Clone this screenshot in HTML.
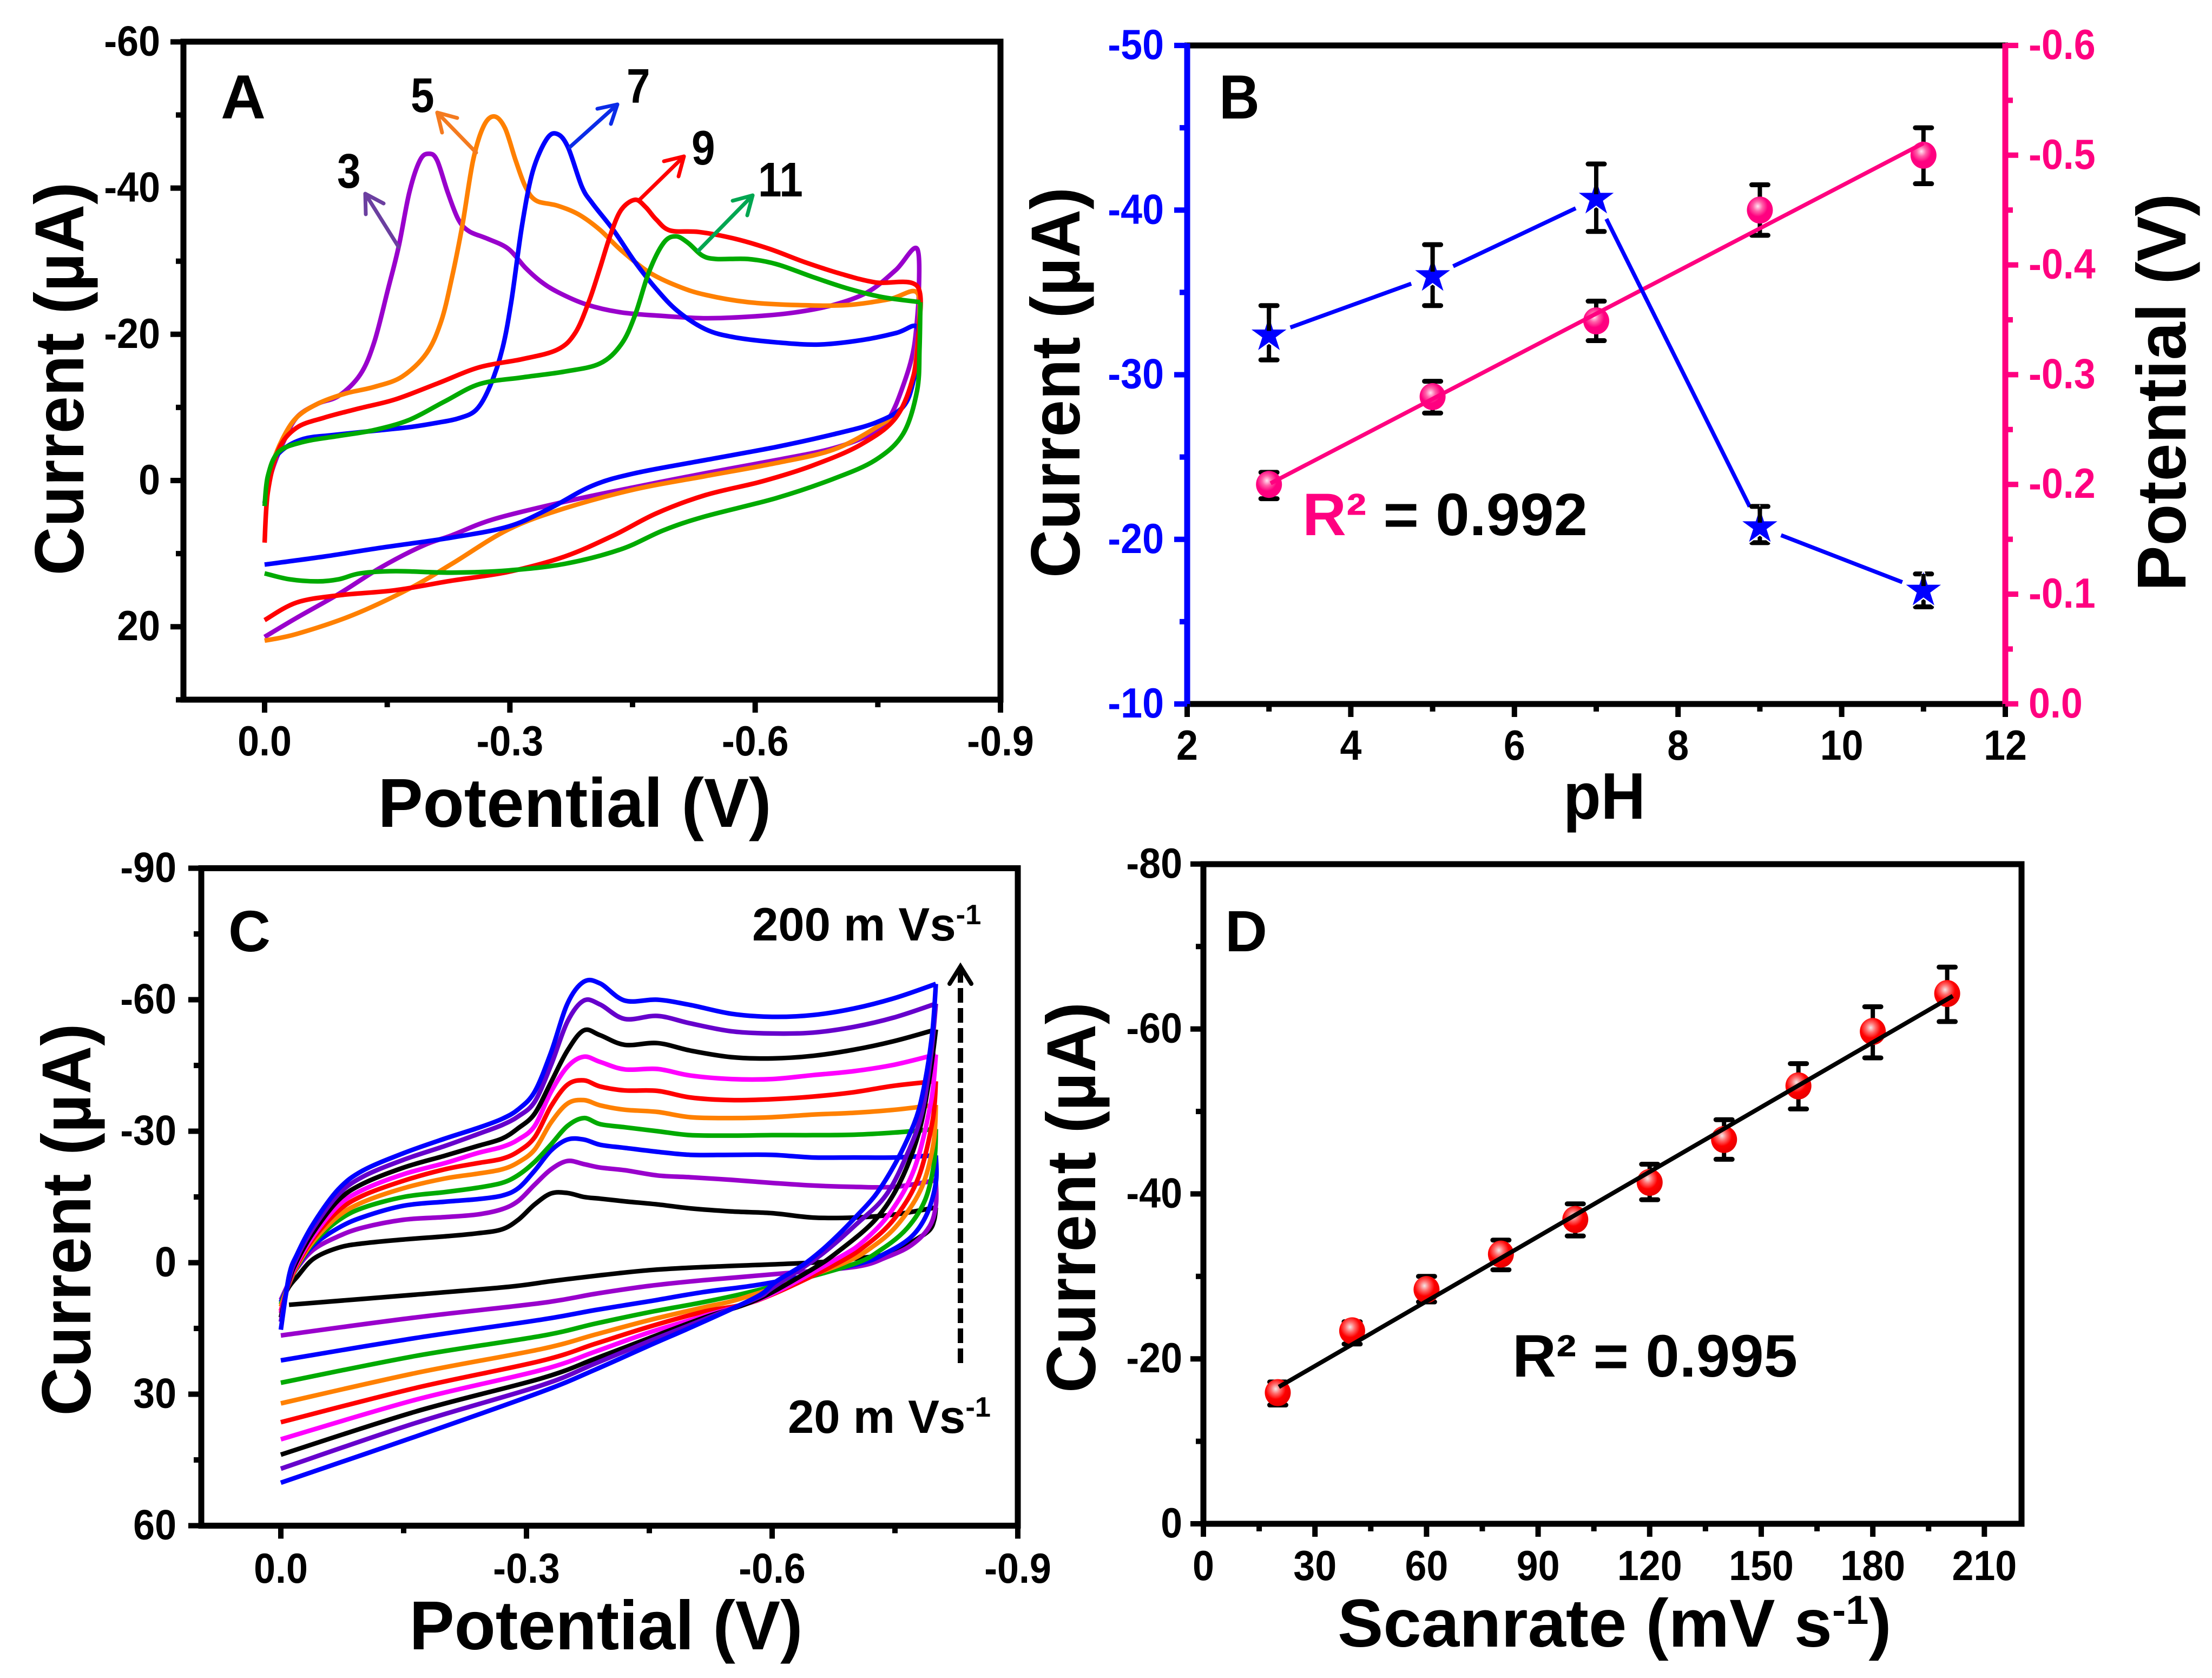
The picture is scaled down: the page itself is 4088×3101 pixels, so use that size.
<!DOCTYPE html>
<html lang="en">
<head>
<meta charset="utf-8">
<title>Cyclic voltammetry panels A-D</title>
<style>
html,body{margin:0;padding:0;background:#fff;}
svg{display:block;}
text{font-family:"Liberation Sans",sans-serif;font-weight:bold;}
</style>
</head>
<body>
<svg id="figure" xmlns="http://www.w3.org/2000/svg" width="4088" height="3101" viewBox="0 0 4088 3101">
<defs>
<radialGradient id="pinkBall" cx="0.42" cy="0.36" r="0.62"><stop offset="0" stop-color="#ffe6f2"/><stop offset="0.3" stop-color="#ff60a8"/><stop offset="0.62" stop-color="#ff0080"/><stop offset="1" stop-color="#ff0080"/></radialGradient>
<radialGradient id="redBall" cx="0.42" cy="0.36" r="0.62"><stop offset="0" stop-color="#f4e8e8"/><stop offset="0.3" stop-color="#ff6a6a"/><stop offset="0.62" stop-color="#ff0000"/><stop offset="1" stop-color="#e80000"/></radialGradient>
</defs>
<rect width="4088" height="3101" fill="#ffffff"/>

<g id="panelA"></g>
<g id="panelB"></g>
<g id="panelC"></g>
<g id="panelD"></g>

<!-- Panel A text -->
<text x="408" y="219" font-size="115">A</text>
<text transform="translate(154,700) rotate(-90)" text-anchor="middle" font-size="128" textLength="727" lengthAdjust="spacingAndGlyphs">Current (µA)</text>
<text x="1062" y="1528" text-anchor="middle" font-size="128" textLength="727" lengthAdjust="spacingAndGlyphs">Potential (V)</text>
<text transform="translate(623,347) scale(.87,1)" font-size="90">3</text>
<text transform="translate(759,207) scale(.87,1)" font-size="90">5</text>
<text transform="translate(1158,190) scale(.87,1)" font-size="90">7</text>
<text transform="translate(1278,304) scale(.87,1)" font-size="90">9</text>
<text transform="translate(1401,363) scale(.87,1)" font-size="90">11</text>
<g fill="none" stroke-width="7" stroke-linecap="round" stroke-linejoin="round">
<g stroke="#6b3fa0"><line x1="737" y1="457" x2="675" y2="358"/><polyline points="676,396 675,358 709,376"/></g>
<g stroke="#f47b20"><line x1="880" y1="282" x2="808" y2="208"/><polyline points="817,245 808,208 845,218"/></g>
<g stroke="#0a2be8"><line x1="1053" y1="272" x2="1141" y2="193"/><polyline points="1104,201 1141,193 1129,229"/></g>
<g stroke="#ff0000"><line x1="1180" y1="371" x2="1264" y2="289"/><polyline points="1227,298 1264,289 1254,326"/></g>
<g stroke="#00a651"><line x1="1291" y1="463" x2="1391" y2="361"/><polyline points="1354,371 1391,361 1381,398"/></g>
</g>

<!-- Panel B text -->
<text transform="translate(2253,219) scale(.9,1)" font-size="115">B</text>
<text transform="translate(1995,707) rotate(-90)" text-anchor="middle" font-size="128" textLength="722" lengthAdjust="spacingAndGlyphs">Current (µA)</text>
<text transform="translate(4039,725) rotate(-90)" text-anchor="middle" font-size="128" textLength="735" lengthAdjust="spacingAndGlyphs">Potential (V)</text>
<text x="2965" y="1513" text-anchor="middle" font-size="122" textLength="152" lengthAdjust="spacingAndGlyphs">pH</text>
<text transform="translate(2407,989) scale(1.02,1)" font-size="110"><tspan fill="#ff0080">R²</tspan><tspan fill="#000"> = 0.992</tspan></text>

<!-- Panel C text -->
<text x="422" y="1758" font-size="108">C</text>
<text transform="translate(167,2254) rotate(-90)" text-anchor="middle" font-size="128" textLength="725" lengthAdjust="spacingAndGlyphs">Current (µA)</text>
<text x="1120" y="3048" text-anchor="middle" font-size="128" textLength="727" lengthAdjust="spacingAndGlyphs">Potential (V)</text>
<text transform="translate(1390,1738) scale(1.01,1)" font-size="86">200 m Vs<tspan dy="-30" font-size="52">-1</tspan></text>
<text transform="translate(1456,2648) scale(1.01,1)" font-size="86">20 m Vs<tspan dy="-30" font-size="52">-1</tspan></text>
<g fill="none" stroke="#000">
<line x1="1775" y1="2519" x2="1775" y2="1790" stroke-width="10" stroke-dasharray="27 10"/>
<polyline points="1755,1818 1775,1786 1795,1818" stroke-width="8" stroke-linecap="round"/>
</g>

<!-- Panel D text -->
<text x="2264" y="1758" font-size="108">D</text>
<text transform="translate(2024,2213) rotate(-90)" text-anchor="middle" font-size="128" textLength="722" lengthAdjust="spacingAndGlyphs">Current (µA)</text>
<text transform="translate(2472,3043) scale(1.012,1)" font-size="125">Scanrate (mV s<tspan dy="-42" font-size="75">-1</tspan><tspan dy="42">)</tspan></text>
<text transform="translate(2795,2544) scale(1.02,1)" font-size="110">R² = 0.995</text>
</svg>

<script>
// ---------- Panel A data (potential magnitude in V, current in uA) ----------
const ph3Potential = [0,.009,.022,.039,.065,.091,.117,.134,.151,.164,.177,.190,.201,.211,.224,.237,.250,.272,.298,.319,.337,.358,.393,.436,.488,.539,.591,.643,.695,.738,.772,.798,.800,.794,.781,.764,.742,.695,.626,.539,.453,.367,.280,.229,.194,.142,.091,.039,0];
const ph3Current = [3.1,-1.3,-5,-8.6,-10.5,-11.6,-14.5,-18.9,-26.2,-32,-39.4,-43.8,-44.7,-43.8,-39.4,-35.7,-34.1,-33.1,-31.7,-29.1,-27.3,-25.8,-24.1,-23,-22.5,-22.2,-22.4,-22.9,-24,-25.8,-28.8,-31.7,-24.7,-18.1,-13,-8.6,-6.4,-4.4,-2.8,-1,.9,2.9,5.3,7.5,8.9,11.9,15.5,18.8,21.4];
const ph5Potential = [0,.009,.022,.039,.065,.099,.134,.168,.198,.216,.229,.242,.255,.268,.281,.294,.307,.319,.332,.358,.384,.410,.436,.470,.505,.539,.591,.652,.712,.764,.798,.800,.794,.781,.747,.695,.626,.539,.453,.367,.298,.229,.177,.108,.039,0];
const ph5Current = [3.1,-2,-5.7,-8.6,-10.5,-11.9,-12.8,-14.2,-17.4,-21.8,-27.7,-35,-43.8,-48.5,-49.8,-48.2,-43.8,-40.2,-38.3,-37.6,-36.4,-34.3,-31.5,-28.5,-26.6,-25.4,-24.4,-24,-24,-24.8,-25.7,-20.4,-14.5,-10.1,-7.2,-4.2,-2.4,-.6,1.2,3.8,6.7,11.4,14.8,18.4,21,21.9];
const ph7Potential = [0,.009,.022,.048,.082,.125,.177,.211,.237,.259,.276,.291,.302,.315,.328,.345,.358,.371,.388,.401,.427,.453,.479,.505,.539,.574,.626,.678,.730,.773,.797,.800,.794,.781,.747,.695,.626,.539,.453,.401,.349,.298,.229,.142,.073,0];
const ph7Current = [3.1,-2,-4.2,-5.7,-6.2,-6.7,-7.3,-7.9,-8.5,-9.7,-13,-18.1,-24.7,-35,-42.3,-46.7,-47.4,-45.6,-40.2,-37.9,-34.2,-29.9,-26.2,-23.2,-20.7,-19.6,-18.9,-18.6,-19.2,-20.2,-21.1,-18.2,-13.8,-10.1,-7.9,-6.3,-4.6,-2.8,-1,.7,3.8,6.3,7.8,9.2,10.4,11.5];
const ph9Potential = [0,.004,.017,.039,.073,.117,.160,.212,.263,.315,.358,.380,.397,.410,.423,.436,.453,.466,.479,.496,.531,.574,.617,.660,.704,.747,.798,.800,.794,.772,.729,.669,.609,.539,.479,.427,.367,.298,.229,.160,.091,.039,0];
const ph9Current = [8.5,1.6,-4.2,-7.2,-8.6,-9.9,-11.1,-13.3,-15.5,-16.6,-17.9,-20.2,-24.6,-29,-33.6,-37,-38.4,-37.4,-35.7,-34.2,-34,-33.1,-31.7,-29.9,-28.3,-27.1,-26.6,-20.4,-14.5,-8.6,-4.9,-2,.1,2,4.5,7.5,10.4,12.5,13.7,15,15.7,16.7,19.1];
const ph11Potential = [0,.004,.017,.048,.091,.134,.177,.220,.263,.315,.367,.410,.436,.453,.470,.488,.503,.518,.535,.552,.591,.626,.669,.712,.755,.802,.801,.798,.781,.747,.695,.626,.539,.488,.436,.367,.298,.229,.160,.117,.091,.065,.030,0];
const ph11Current = [3.5,-.6,-3.9,-5.3,-6.1,-6.9,-8.3,-10.8,-13.2,-14.1,-14.9,-16,-18.6,-22.6,-28.5,-32.5,-33.4,-32.5,-30.8,-30.3,-30.3,-29.6,-27.9,-26.3,-25.1,-24.4,-18.1,-12.3,-6.4,-2.8,-.2,2.4,4.9,6.8,9.4,11.4,12.3,12.6,12.4,12.7,13.5,13.8,13.5,12.7];
const panelAXTicks = [0,-0.3,-0.6,-0.9];
const panelAXLabels = ['0.0','-0.3','-0.6','-0.9'];
const panelAXMinor = [-0.15,-0.45,-0.75];
const panelAYTicks = [-60,-40,-20,0,20];
const panelAYMinor = [-50,-30,-10,10,30];

// ---------- Panel B data ----------
const phValues = [3,5,7,9,11];
const bCurrent = [-32.4,-36,-40.7,-20.75,-16.9];
const bCurrentErrTop = [-34.2,-37.9,-42.8,-22,-17.9];
const bCurrentErrBottom = [-30.9,-34.2,-38.7,-19.8,-15.9];
const bPotential = [-.2,-.28,-.349,-.45,-.5];
const bPotentialErrTop = [-.211,-.294,-.367,-.473,-.525];
const bPotentialErrBottom = [-.187,-.265,-.331,-.427,-.474];
const bFitPh = [3.02,11];
const bFitPotential = [-.201,-.511];
const bXTicks = [2,4,6,8,10,12];
const bXMinor = [3,5,7,9,11];
const bLeftTicks = [-50,-40,-30,-20,-10];
const bLeftMinor = [-45,-35,-25,-15];
const bRightTicks = [-.6,-.5,-.4,-.3,-.2,-.1,0];
const bRightLabels = ['-0.6','-0.5','-0.4','-0.3','-0.2','-0.1','0.0'];
const bRightMinor = [-.55,-.45,-.35,-.25,-.15,-.05];

// ---------- Panel C data ----------
const cForwardPotential = [0,.01,.02,.04,.07,.1,.15,.2,.24,.27,.29,.31,.33,.35,.37,.39,.42,.46,.5,.55,.6,.65,.7,.75,.8];
const cForward20 = [9,5.5,3.2,-.9,-3.4,-4.4,-5.3,-6,-6.7,-7.6,-9.8,-13.3,-15.8,-15.9,-15,-14.6,-14,-13.3,-12.4,-11.7,-11.3,-10.3,-10.3,-11,-12.6];
const cForward40 = [8.5,4.5,1.2,-3,-6,-8,-9.8,-10.4,-11,-12.2,-14.1,-17.8,-21.3,-23.2,-22.5,-21.7,-21.1,-19.9,-19.5,-18.9,-18.2,-17.6,-17.3,-17.3,-18.8];
const cForward60 = [9,4.8,1,-4,-7.9,-10.4,-13,-13.9,-14.5,-15.3,-17,-21,-25.6,-28.1,-28.1,-26.9,-26.2,-25.3,-24.6,-24.6,-24.6,-24,-24,-24,-24.5];
const cForward80 = [9.5,4.8,.9,-4.6,-9.6,-12.5,-15,-16.1,-17.1,-18.2,-20,-23,-27,-31.2,-33,-31.6,-30.9,-30,-29.1,-29,-29.1,-29.1,-29.2,-29.7,-30.5];
const cForward100 = [10,4.8,.7,-5,-10.6,-13.8,-17,-19.2,-20.3,-21.3,-22.9,-25.8,-32,-36.3,-37.1,-35.9,-34.9,-34.4,-33.2,-33,-33.2,-33.8,-34.2,-34.9,-36];
const cForward120 = [11,4.6,.4,-5.6,-11.8,-15.3,-18.7,-21.3,-22.7,-23.7,-25.4,-28.6,-35.7,-40.6,-41.6,-40.2,-39.3,-39.2,-37.7,-37.1,-37.3,-37.9,-38.9,-40.4,-41.4];
const cForward140 = [11.5,4.4,0,-6.2,-13,-16.6,-20.2,-22.7,-25,-26.4,-28.1,-31.2,-39,-44.7,-47,-45.8,-44.1,-44.2,-42.7,-41.9,-41.9,-42.8,-43.7,-45.2,-47.5];
const cForward160 = [12.5,4.2,-.5,-7,-14.2,-18,-21.7,-24.4,-26.6,-28.3,-30.7,-34,-41.2,-48.4,-53,-51.9,-49.7,-50.1,-48.4,-46.9,-46.6,-47.2,-48.6,-50.6,-53.2];
const cForward180 = [13.5,3.8,-1.3,-8,-15.5,-19.6,-23.5,-26.6,-29.3,-31.4,-33.4,-36.7,-45.1,-55,-59.8,-58.9,-55.6,-56.3,-54.6,-52.8,-52.3,-52.5,-53.8,-56,-59.1];
const cForward200 = [15.3,3,-2,-9,-16.7,-21,-25,-28.3,-30.7,-32.8,-35,-39,-48,-59.1,-64.1,-63.7,-59.8,-60,-58.8,-56.8,-56.1,-56.5,-58,-60.4,-63.6];
const cReverseV20 = [.798,.792,.774,.747,.7,.648,.516,.45,.384,.331,.278,.164,.01];
const cReverseI20 = [-9.8,-7.4,-5.1,-2.2,-.9,0,1,1.7,3,4.2,5.5,7.3,9.6];
const cReverseV40 = [.8,.792,.77,.739,.703,.617,.516,.45,.384,.318,.164,0];
const cReverseI40 = [-13.1,-8.2,-4,-1.2,.9,2.4,4,5.3,7.1,9.2,12.5,16.6];
const cReverseV60 = [.8,.789,.77,.739,.703,.594,.516,.45,.384,.318,.164,0];
const cReverseI60 = [-18.3,-11.1,-5.9,-2.2,.4,4.7,6.7,8.8,10.8,13,17.2,22.3];
const cReverseV80 = [.798,.787,.765,.734,.695,.582,.516,.45,.384,.318,.164,0];
const cReverseI80 = [-23,-14.4,-7.9,-3.1,.6,6.3,9,11.3,13.9,16.7,21.3,27.4];
const cReverseV100 = [.797,.783,.756,.726,.681,.567,.516,.45,.384,.318,.164,0];
const cReverseI100 = [-27.2,-17.3,-9.3,-4.1,.6,7.9,10.2,13.1,16.4,19.7,25.2,32.1];
const cReverseV120 = [.796,.779,.752,.719,.677,.582,.516,.45,.384,.318,.164,0];
const cReverseI120 = [-32.5,-19.6,-10.7,-4.6,.4,8.6,11.2,14.6,18.5,22.4,28.6,36.4];
const cReverseV140 = [.794,.774,.745,.712,.681,.593,.516,.45,.384,.318,.164,0];
const cReverseI140 = [-36.7,-21.6,-11.6,-5,-1.1,7.7,12.2,15.9,20.3,24.5,31.3,40.3];
const cReverseV160 = [.792,.779,.756,.726,.681,.648,.582,.516,.45,.384,.318,.164,0];
const cReverseI160 = [-41.9,-29.6,-18.3,-9.8,-2.6,1.6,8.4,12.6,17.2,21.9,26.4,34,43.8];
const cReverseV180 = [.794,.783,.765,.739,.703,.659,.6,.582,.516,.45,.384,.318,.164,0];
const cReverseI180 = [-47.5,-34.3,-24.8,-15.4,-8.8,-1.7,5.8,8,13,17.9,23,28,36.6,47];
const cReverseV200 = [.796,.789,.779,.765,.747,.726,.703,.681,.659,.637,.604,.582,.516,.45,.384,.318,.164,0];
const cReverseI200 = [-53.2,-43.7,-34.8,-28.1,-21.5,-15.4,-10.6,-6.4,-2.6,.6,4.4,7.7,13.5,18.9,24.4,29.5,39.7,50.2];
const cXTicks = [0,-0.3,-0.6,-0.9];
const cXLabels = ['0.0','-0.3','-0.6','-0.9'];
const cXMinor = [-0.15,-0.45,-0.75];
const cYTicks = [-90,-60,-30,0,30,60];
const cYMinor = [-75,-45,-15,15,45];

// ---------- Panel D data ----------
const dScanRate = [20,40,60,80,100,120,140,160,180,200];
const dCurrent = [-15.9,-23.4,-28.4,-32.7,-36.9,-41.4,-46.6,-53.1,-59.7,-64.3];
const dErrTop = [-17.2,-24.5,-30,-34.4,-38.8,-43.6,-49,-55.8,-62.7,-67.5];
const dErrBottom = [-14.4,-21.8,-26.9,-30.8,-34.9,-39.3,-44.2,-50.3,-56.5,-60.9];
const dFitRate = [20.3,201.5];
const dFitCurrent = [-16.6,-64];
const dXTicks = [0,30,60,90,120,150,180,210];
const dXMinor = [15,45,75,105,135,165,195];
const dYTicks = [-80,-60,-40,-20,0];
const dYMinor = [-70,-50,-30,-10];

// ---------- axis functions ----------
const axAx = v => 489 + (-v) * 1511.1;      // tick values are negative potentials
const axAc = v => 489 + v * 1511.1;         // curve potentials are magnitudes
const ayA = i => 888 + i * 13.51;
const bx = p => 2194 + (p - 2) * 151.2;
const byL = i => 84 + (i + 50) * 30.425;
const byR = v => 84 + (v + 0.6) * 2028;
const cxT = v => 519 + (-v) * 1513.3;
const cxC = v => 519 + v * 1513.3;
const cy = i => 2333.5 + i * 8.1;
const dx = s => 2224 + s * 6.873;
const dy = i => 2816 + i * 15.24;

const NS = 'http://www.w3.org/2000/svg';
const FONT = 78, SX = 0.92;

function mk(parent, tagName, attrs) {
  const el = document.createElementNS(NS, tagName);
  for (const k in attrs) el.setAttribute(k, attrs[k]);
  parent.appendChild(el);
  return el;
}
function line(parent, x1, y1, x2, y2, stroke, width, name, cap) {
  const el = mk(parent, 'line', {x1, y1, x2, y2, stroke, 'stroke-width': width, 'stroke-linecap': cap || 'butt'});
  
  
  return el;
}
function label(parent, x, y, str, anchor, fill, name) {
  const el = mk(parent, 'text', {transform: 'translate(' + x + ',' + y + ') scale(' + SX + ',1)', 'text-anchor': anchor, fill, 'font-size': FONT});
  el.textContent = str;
  
  
  return el;
}
function smooth(pts) {
  let d = 'M' + pts[0][0].toFixed(1) + ' ' + pts[0][1].toFixed(1);
  for (let i = 0; i < pts.length - 1; i++) {
    const p0 = pts[Math.max(i - 1, 0)], p1 = pts[i], p2 = pts[i + 1], p3 = pts[Math.min(i + 2, pts.length - 1)];
    const c1x = p1[0] + (p2[0] - p0[0]) / 6, c1y = p1[1] + (p2[1] - p0[1]) / 6;
    const c2x = p2[0] - (p3[0] - p1[0]) / 6, c2y = p2[1] - (p3[1] - p1[1]) / 6;
    d += 'C' + c1x.toFixed(1) + ' ' + c1y.toFixed(1) + ' ' + c2x.toFixed(1) + ' ' + c2y.toFixed(1) + ' ' + p2[0].toFixed(1) + ' ' + p2[1].toFixed(1);
  }
  return d;
}
// Forward and reverse sweeps are smoothed separately so the turn at the vertex stays sharp.
function curve(parent, pts, color, width, name) {
  let turn = 0;
  pts.forEach((p, i) => { if (p[0] > pts[turn][0]) turn = i; });
  const d = smooth(pts.slice(0, turn + 1)) + smooth(pts.slice(turn));
  const el = mk(parent, 'path', {d, fill: 'none', stroke: color, 'stroke-width': width, 'stroke-linejoin': 'round', 'stroke-linecap': 'butt'});
  
  
  return el;
}
function frame(parent, x, y, w, h, name) {
  const el = mk(parent, 'rect', {x, y, width: w, height: h, fill: 'none', stroke: '#000', 'stroke-width': 11});
  
  
  return el;
}
function xTicks(parent, ticks, minor, xf, yBase, color, labels, labelY) {
  ticks.forEach((t, i) => {
    line(parent, xf(t), yBase, xf(t), yBase + 24, color, 10, 'x-tick');
    label(parent, xf(t), labelY, labels[i], 'middle', color, 'x-tick-label');
  });
  minor.forEach(t => line(parent, xf(t), yBase, xf(t), yBase + 14, color, 10, 'x-minor-tick'));
}
function yTicks(parent, ticks, minor, yf, xBase, color, labels, labelX, dir) {
  ticks.forEach((t, i) => {
    line(parent, xBase, yf(t), xBase + dir * 24, yf(t), color, 10, 'y-tick');
    label(parent, labelX, yf(t) + 25, labels[i], dir < 0 ? 'end' : 'start', color, 'y-tick-label');
  });
  minor.forEach(t => line(parent, xBase, yf(t), xBase + dir * 14, yf(t), color, 10, 'y-minor-tick'));
}
function starPoints(cx, cyy, R) {
  const r = R * 0.382, out = [];
  for (let i = 0; i < 10; i++) {
    const a = -Math.PI / 2 + i * Math.PI / 5, rad = i % 2 ? r : R;
    out.push((cx + rad * Math.cos(a)).toFixed(1) + ',' + (cyy + rad * Math.sin(a)).toFixed(1));
  }
  return out.join(' ');
}
function ball(parent, x, y, fill, name) {
  const el = mk(parent, 'ellipse', {cx: x, cy: y, rx: 24, ry: 25, fill});
  
  
  return el;
}
function errorBar(parent, x, yTop, yBottom, name) {
  const g = mk(parent, 'g', {});
  
  
  mk(g, 'line', {x1: x, y1: yTop, x2: x, y2: yBottom, stroke: '#000', 'stroke-width': 8});
  mk(g, 'line', {x1: x - 15, y1: yTop, x2: x + 15, y2: yTop, stroke: '#000', 'stroke-width': 9, 'stroke-linecap': 'round'});
  mk(g, 'line', {x1: x - 15, y1: yBottom, x2: x + 15, y2: yBottom, stroke: '#000', 'stroke-width': 9, 'stroke-linecap': 'round'});
  return g;
}
const zip = (xs, ys, fx, fy) => xs.map((v, i) => [fx(v), fy(ys[i])]);

// ---------- Panel A ----------
(function () {
  const g = document.getElementById('panelA');
  frame(g, 339, 77, 1510, 1216, 'panel-a-frame');
  xTicks(g, panelAXTicks, panelAXMinor, axAx, 1293, '#000', panelAXLabels, 1396);
  yTicks(g, panelAYTicks, panelAYMinor, ayA, 339, '#000', panelAYTicks.map(String), 296, -1);
  curve(g, zip(ph3Potential, ph3Current, axAc, ayA), '#9900cc', 8.5, 'cv-curve-ph-3');
  curve(g, zip(ph5Potential, ph5Current, axAc, ayA), '#ff8000', 8.5, 'cv-curve-ph-5');
  curve(g, zip(ph7Potential, ph7Current, axAc, ayA), '#0000ff', 8.5, 'cv-curve-ph-7');
  curve(g, zip(ph9Potential, ph9Current, axAc, ayA), '#ff0000', 8.5, 'cv-curve-ph-9');
  curve(g, zip(ph11Potential, ph11Current, axAc, ayA), '#00aa00', 8.5, 'cv-curve-ph-11');
})();

// ---------- Panel B ----------
(function () {
  const g = document.getElementById('panelB');
  const black = '#000', blue = '#0000ff', pink = '#ff0080';
  line(g, 2189, 84, 3711, 84, black, 11, 'panel-b-top-axis');
  line(g, 2189, 1301, 3711, 1301, black, 11, 'panel-b-bottom-axis');
  line(g, 2194, 80, 2194, 1306, blue, 11, 'panel-b-left-axis');
  line(g, 3706, 80, 3706, 1306, pink, 11, 'panel-b-right-axis');
  xTicks(g, bXTicks, bXMinor, bx, 1301, black, bXTicks.map(String), 1404);
  yTicks(g, bLeftTicks, bLeftMinor, byL, 2194, blue, bLeftTicks.map(String), 2151, -1);
  yTicks(g, bRightTicks, bRightMinor, byR, 3706, pink, bRightLabels, 3749, 1);

  // pink series
  phValues.forEach((p, i) => {
    errorBar(g, bx(p), byR(bPotentialErrTop[i]), byR(bPotentialErrBottom[i]), 'potential-error-bar');
    ball(g, bx(p), byR(bPotential[i]), 'url(#pinkBall)', 'potential-point');
  });
  line(g, bx(bFitPh[0]), byR(bFitPotential[0]), bx(bFitPh[1]), byR(bFitPotential[1]), pink, 7.5, 'potential-fit-line');

  // blue series, with gaps around the star symbols
  const GAP = 42;
  for (let i = 0; i < phValues.length - 1; i++) {
    const x1 = bx(phValues[i]), y1 = byL(bCurrent[i]), x2 = bx(phValues[i + 1]), y2 = byL(bCurrent[i + 1]);
    const len = Math.hypot(x2 - x1, y2 - y1), ux = (x2 - x1) / len, uy = (y2 - y1) / len;
    line(g, x1 + ux * GAP, y1 + uy * GAP, x2 - ux * GAP, y2 - uy * GAP, blue, 7.5, 'current-line-segment');
  }
  phValues.forEach((p, i) => {
    const x = bx(p), y = byL(bCurrent[i]), top = byL(bCurrentErrTop[i]), bot = byL(bCurrentErrBottom[i]);
    errorBar(g, x, top, bot, 'current-error-bar');
    const star = mk(g, 'polygon', {points: starPoints(x, y, 34), fill: blue, stroke: '#fff', 'stroke-width': 5, 'paint-order': 'stroke'});
    
    
    line(g, x, top, x, Math.max(top, y - 8), black, 8, 'current-error-stem');
  });
})();

// ---------- Panel C ----------
const cSeries = [
  {rate: 20, color: '#000000', fwd: cForward20, rv: cReverseV20, ri: cReverseI20},
  {rate: 40, color: '#9900cc', fwd: cForward40, rv: cReverseV40, ri: cReverseI40},
  {rate: 60, color: '#0000ff', fwd: cForward60, rv: cReverseV60, ri: cReverseI60},
  {rate: 80, color: '#00aa00', fwd: cForward80, rv: cReverseV80, ri: cReverseI80},
  {rate: 100, color: '#ff8000', fwd: cForward100, rv: cReverseV100, ri: cReverseI100},
  {rate: 120, color: '#ff0000', fwd: cForward120, rv: cReverseV120, ri: cReverseI120},
  {rate: 140, color: '#ff00ff', fwd: cForward140, rv: cReverseV140, ri: cReverseI140},
  {rate: 160, color: '#000000', fwd: cForward160, rv: cReverseV160, ri: cReverseI160},
  {rate: 180, color: '#6600cc', fwd: cForward180, rv: cReverseV180, ri: cReverseI180},
  {rate: 200, color: '#0000ff', fwd: cForward200, rv: cReverseV200, ri: cReverseI200}
];
(function () {
  const g = document.getElementById('panelC');
  frame(g, 372, 1604.5, 1509, 1215, 'panel-c-frame');
  xTicks(g, cXTicks, cXMinor, cxT, 2819.5, '#000', cXLabels, 2925);
  yTicks(g, cYTicks, cYMinor, cy, 372, '#000', cYTicks.map(String), 326, -1);
  cSeries.forEach(s => {
    const pts = zip(cForwardPotential, s.fwd, cxC, cy).concat(zip(s.rv, s.ri, cxC, cy));
    curve(g, pts, s.color, 8.5, 'cv-curve-' + s.rate + '-mv-s');
  });
})();

// ---------- Panel D ----------
(function () {
  const g = document.getElementById('panelD');
  frame(g, 2224, 1597, 1512, 1219, 'panel-d-frame');
  xTicks(g, dXTicks, dXMinor, dx, 2816, '#000', dXTicks.map(String), 2920);
  yTicks(g, dYTicks, dYMinor, dy, 2224, '#000', dYTicks.map(String), 2185, -1);
  dScanRate.forEach((s, i) => {
    errorBar(g, dx(s), dy(dErrTop[i]), dy(dErrBottom[i]), 'current-error-bar');
    ball(g, dx(s), dy(dCurrent[i]), 'url(#redBall)', 'current-point');
  });
  line(g, dx(dFitRate[0]), dy(dFitCurrent[0]), dx(dFitRate[1]), dy(dFitCurrent[1]), '#000', 8, 'linear-fit-line');
})();
</script>
</body>
</html>
